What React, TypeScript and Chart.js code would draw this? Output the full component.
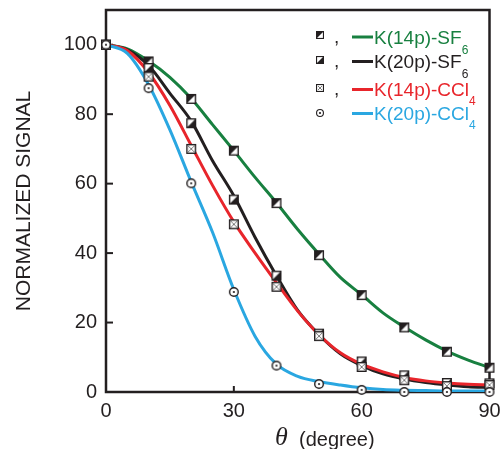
import React, { useEffect, useRef } from 'react';
import { Chart, registerables } from 'chart.js';

Chart.register(...registerables);

// ---------- data ----------
const THETA_LINE = [0, 5, 10, 15, 20, 25, 30, 35, 40, 45, 50, 55, 60, 65, 70, 75, 80, 85, 90];
const K14_SF6_LINE = [100, 98.8, 95.3, 90.6, 84.5, 77, 69.5, 61.8, 54.5, 46.8, 39.7, 33, 28, 22.8, 18.7, 15, 11.8, 9.2, 7];
const K20_SF6_LINE = [100, 98.5, 94, 86, 78, 66.6, 56.5, 44.5, 33.5, 23.5, 16.5, 11, 7.6, 5.2, 3.7, 2.7, 2, 1.5, 1.3];
const K14_CCL4_LINE = [100, 98.3, 92, 82.5, 71, 59.5, 49, 40, 31.5, 23.3, 16.5, 11.3, 8, 5.8, 4.2, 3.2, 2.6, 2.2, 2];
const K20_CCL4_LINE = [100, 97.5, 88.5, 75.5, 60.5, 46, 29.5, 16, 8, 4.5, 3, 2, 1.2, 0.7, 0.5, 0.4, 0.3, 0.3, 0.3];

const THETA_PTS = [0, 10, 20, 30, 40, 50, 60, 70, 80, 90];
const K14_SF6_PTS = [100, 95.2, 84.4, 69.5, 54.4, 39.4, 27.9, 18.6, 11.6, 7];
const K20_SF6_PTS = [100, 93.3, 77.4, 55.4, 33.5, 16.8, 8.8, 4.8, 2.6, 2.5];
const K14_CCL4_PTS = [100, 90.8, 70, 48.3, 30.3, 16.1, 7.2, 3.4, 1.7, 2];
const K20_CCL4_PTS = [100, 87.5, 60.1, 28.8, 7.6, 2.3, 0.6, 0, 0, 0];

const X_TICKS = [0, 30, 60, 90];
const Y_TICKS = [0, 20, 40, 60, 80, 100];

const LEGEND_LABELS = ['K(14p)-SF', 'K(20p)-SF', 'K(14p)-CCl', 'K(20p)-CCl'];
const LEGEND_SUBS = ['6', '6', '4', '4'];
const LEGEND_COMMA = [true, true, true, false];

const Y_TITLE = 'NORMALIZED SIGNAL';
const X_TITLE_SYMBOL = 'θ';
const X_TITLE_TEXT = '(degree)';

// ---------- styles ----------
const INK = '#231f20';
const GREEN = '#188040';
const BLACK = '#231f20';
const RED = '#e8252b';
const BLUE = '#2aa7e1';
const COLORS = [GREEN, BLACK, RED, BLUE];
const KINDS = ['ul', 'lr', 'cross', 'circle'];
const SANS = '"Liberation Sans", Arial, Helvetica, sans-serif';

function makeMarker(kind: string, s: number, lw: number): HTMLCanvasElement {
  const pad = 2;
  const c = document.createElement('canvas');
  c.width = s + pad * 2;
  c.height = s + pad * 2;
  const g = c.getContext('2d')!;
  const x0 = pad, y0 = pad, x1 = pad + s, y1 = pad + s;
  g.lineWidth = lw;
  g.strokeStyle = INK;
  if (kind === 'circle') {
    g.beginPath();
    g.arc(c.width / 2, c.height / 2, s / 2 - lw / 2, 0, Math.PI * 2);
    g.fillStyle = '#fff';
    g.fill();
    g.stroke();
    g.beginPath();
    g.arc(c.width / 2, c.height / 2, 1.1, 0, Math.PI * 2);
    g.fillStyle = INK;
    g.fill();
    return c;
  }
  g.fillStyle = '#fff';
  g.fillRect(x0, y0, s, s);
  g.fillStyle = INK;
  if (kind === 'ul') {
    g.beginPath();
    g.moveTo(x0, y0); g.lineTo(x1, y0); g.lineTo(x0, y1); g.closePath(); g.fill();
  } else if (kind === 'lr') {
    g.beginPath();
    g.moveTo(x1, y0); g.lineTo(x1, y1); g.lineTo(x0, y1); g.closePath(); g.fill();
  } else if (kind === 'cross') {
    g.save();
    g.strokeStyle = '#7a7a7a';
    g.lineWidth = 1;
    g.beginPath();
    g.moveTo(x0 + 2, y0 + 2); g.lineTo(x1 - 2, y1 - 2);
    g.moveTo(x1 - 2, y0 + 2); g.lineTo(x0 + 2, y1 - 2);
    g.stroke();
    g.restore();
  }
  g.strokeRect(x0 + lw / 2, y0 + lw / 2, s - lw, s - lw);
  return c;
}

function pairs(xs: number[], ys: number[]) {
  return xs.map((x, i) => ({ x, y: ys[i] }));
}

const framePlugin = {
  id: 'frame',
  beforeDatasetsDraw(chart: any) {
    const { ctx, chartArea } = chart;
    const { left, right, top, bottom } = chartArea;
    ctx.save();
    ctx.strokeStyle = INK;
    ctx.lineWidth = 2.5;
    ctx.strokeRect(left, top, right - left, bottom - top);
    ctx.lineWidth = 2;
    const ys = chart.scales.y;
    ys.ticks.forEach((t: any) => {
      const py = ys.getPixelForValue(t.value);
      ctx.beginPath(); ctx.moveTo(left, py); ctx.lineTo(left + 7, py); ctx.stroke();
    });
    const xs = chart.scales.x;
    xs.ticks.forEach((t: any) => {
      const px = xs.getPixelForValue(t.value);
      ctx.beginPath(); ctx.moveTo(px, bottom); ctx.lineTo(px, bottom - 6); ctx.stroke();
    });
    ctx.restore();
  },
};

const annotPlugin = {
  id: 'annot',
  afterDraw(chart: any) {
    const { ctx } = chart;
    ctx.save();
    // legend
    const textBase = [43.5, 67.5, 96, 119.5];
    const markY = [35, 60, 88, 113];
    const lineY = [37, 61.5, 89.5, 113.5];
    const subBase = [53.5, 77.5, 105, 128.5];
    LEGEND_LABELS.forEach((lab, i) => {
      const m = makeMarker(KINDS[i], 8, 1.1);
      ctx.drawImage(m, Math.round(320 - m.width / 2), Math.round(markY[i] - m.height / 2));
      ctx.fillStyle = INK;
      ctx.font = `19px ${SANS}`;
      ctx.textBaseline = 'alphabetic';
      ctx.textAlign = 'left';
      if (LEGEND_COMMA[i]) ctx.fillText(',', 334, textBase[i] - 1);
      ctx.strokeStyle = COLORS[i];
      ctx.lineWidth = 3;
      ctx.beginPath(); ctx.moveTo(352, lineY[i]); ctx.lineTo(373, lineY[i]); ctx.stroke();
      ctx.fillStyle = COLORS[i];
      ctx.fillText(lab, 374, textBase[i]);
      const w = ctx.measureText(lab).width;
      ctx.font = `12px ${SANS}`;
      ctx.fillText(LEGEND_SUBS[i], 374 + w, subBase[i]);
    });
    // x title
    ctx.fillStyle = INK;
    ctx.font = `italic 26px "Liberation Serif", "Times New Roman", serif`;
    ctx.textBaseline = 'alphabetic';
    ctx.fillText(X_TITLE_SYMBOL, 275, 445);
    ctx.font = `20px ${SANS}`;
    ctx.fillText(X_TITLE_TEXT, 299, 446);
    ctx.restore();
  },
};

export default function App() {
  const ref = useRef<HTMLCanvasElement>(null);
  useEffect(() => {
    const lineSets = [K14_SF6_LINE, K20_SF6_LINE, K14_CCL4_LINE, K20_CCL4_LINE].map((ys, i) => ({
      type: 'line',
      data: pairs(THETA_LINE, ys),
      borderColor: COLORS[i],
      backgroundColor: COLORS[i],
      borderWidth: 3,
      pointRadius: 0,
      cubicInterpolationMode: 'monotone',
      fill: false,
      order: 10 - i,
    }));
    const markerSets = [K14_SF6_PTS, K20_SF6_PTS, K14_CCL4_PTS, K20_CCL4_PTS].map((ys, i) => ({
      type: 'line',
      data: pairs(THETA_PTS, ys),
      showLine: false,
      pointStyle: makeMarker(KINDS[i], 10, 1.4),
      pointRadius: 5,
      clip: false,
      order: 4 - i,
    }));
    const chart = new Chart(ref.current!, {
      type: 'line',
      data: { datasets: [...lineSets, ...markerSets] as any },
      plugins: [framePlugin, annotPlugin],
      options: {
        responsive: false,
        animation: false,
        layout: { padding: { top: 10, right: 10.5, left: 0, bottom: 0 } },
        plugins: { legend: { display: false }, tooltip: { enabled: false } },
        scales: {
          x: {
            type: 'linear',
            min: 0,
            max: 90,
            afterBuildTicks: (s: any) => { s.ticks = X_TICKS.map((v) => ({ value: v })); },
            afterFit: (s: any) => { s.height = 57; s.paddingLeft = 0; s.paddingRight = 0; },
            grid: { display: false, drawTicks: false, tickLength: 0 },
            border: { display: false },
            ticks: { color: INK, font: { family: SANS, size: 20 }, padding: 7, maxRotation: 0 },
          },
          y: {
            type: 'linear',
            min: 0,
            max: 110,
            afterBuildTicks: (s: any) => { s.ticks = Y_TICKS.map((v) => ({ value: v })); },
            afterFit: (s: any) => { s.width = 106; s.paddingTop = 0; s.paddingBottom = 0; },
            grid: { display: false, drawTicks: false, tickLength: 0 },
            border: { display: false },
            ticks: { color: INK, font: { family: SANS, size: 20 }, padding: 9 },
            title: {
              display: true,
              text: Y_TITLE,
              color: INK,
              font: { family: SANS, size: 21 },
              padding: { top: 12, bottom: 0 },
            },
          },
        },
      } as any,
    } as any);
    return () => chart.destroy();
  }, []);
  return (
    <div style={{ position: 'fixed', left: 0, top: 0, width: 500, height: 449, background: '#fff' }}>
      <canvas ref={ref} width={500} height={449} style={{ display: 'block', width: 500, height: 449 }} />
    </div>
  );
}
